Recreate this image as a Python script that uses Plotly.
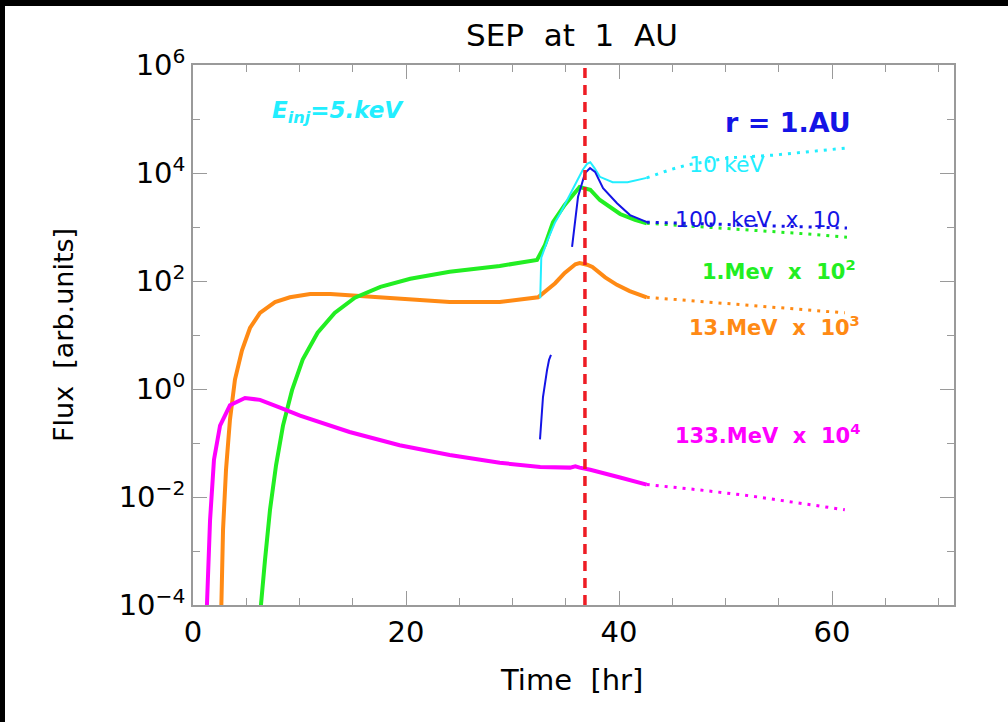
import plotly.graph_objects as go

# ---------------- data ----------------
# 133 MeV x 1e4 (magenta)
t_133 = [1.2, 1.31, 1.6, 1.97, 2.54, 3.47, 4.88, 6.29, 8.17, 10.05, 14.7, 19.4, 24.1, 28.8,
         32.6, 35.4, 35.9, 36.3, 37.3, 38.2, 40.1, 42.6]
f_133 = [1e-5, 1e-4, 3.7e-3, 0.049, 0.21, 0.50, 0.68, 0.63, 0.45, 0.32, 0.16, 0.091, 0.060, 0.043,
         0.036, 0.035, 0.037, 0.035, 0.032, 0.029, 0.023, 0.017]
t_133_ext = [42.6, 47.6, 52.3, 57.0, 61.2]
f_133_ext = [0.017, 0.0135, 0.0105, 0.0078, 0.0058]

# 13 MeV x 1e3 (orange)
t_13 = [2.55, 2.63, 2.82, 3.1, 3.47, 3.94, 4.6, 5.35, 6.29, 7.7, 9.1, 11.0, 12.9, 15.7, 19.4, 24.1,
        28.8, 30.7, 32.4, 34.0, 34.9, 35.9, 36.3, 37.0, 37.5, 38.7, 39.8, 41.0, 42.6]
f_13 = [1e-5, 1e-4, 2.5e-3, 0.032, 0.27, 1.5, 5.2, 13.5, 25.7, 40.7, 50, 57.5, 57.5, 52.5, 46.8, 40.7,
        40.7, 44.7, 50, 91, 141, 204, 214, 200, 182, 117, 85, 65, 50]
t_13_ext = [42.6, 47.6, 52.3, 57.0, 61.2]
f_13_ext = [50, 41.7, 34.7, 29.5, 25.7]

# 1 MeV x 1e2 (green)
t_1 = [6.3, 6.38, 6.76, 7.23, 7.8, 8.45, 9.3, 10.3, 11.7, 13.3, 15.2, 17.6, 20.4, 24.1, 28.8, 32.3,
       33.05, 33.8, 34.9, 35.6, 36.3, 37.3, 38.2, 40.1, 41.5, 42.6]
f_1 = [1e-5, 1e-4, 6.8e-4, 5.8e-3, 0.039, 0.21, 0.95, 3.5, 11, 25.7, 49, 78, 110, 148, 190, 245,
       468, 1230, 2570, 3890, 5500, 4900, 3160, 1740, 1350, 1175]
t_1_ext = [42.6, 47.6, 52.3, 57.0, 61.4]
f_1_ext = [1175, 1020, 870, 760, 645]

# 10 keV (cyan)
t_10k = [32.6, 32.7, 33.3, 34.0, 34.5, 35.4, 36.1, 36.6, 37.0, 37.3, 37.7, 38.2, 39.4, 40.8, 42.6]
f_10k = [48, 270, 575, 1230, 1820, 3890, 7400, 11500, 14800, 15800, 12300, 8500, 6760, 6760, 8130]
t_10k_ext = [42.6, 44.8, 46.4, 50.4, 54.5, 61.2]
f_10k_ext = [8130, 11500, 14100, 19100, 21400, 28800]

# 100 keV x 10 (blue) - None marks the gap
t_100k = [32.58, 32.86, 33.24, 33.43, 33.61, None,
          35.59, 36.15, 36.81, 37.28, 37.75, 38.5, 39.81, 41.03, 42.63]
f_100k = [0.117, 0.71, 2.24, 3.47, 4.27, None,
          427, 3630, 10000, 12300, 10500, 5250, 2750, 1660, 1230]
t_100k_ext = [42.6, 52.0, 61.4]
f_100k_ext = [1230, 1100, 955]

shock_time = 36.8

y_tick_vals = [1e-4, 1e-2, 1, 1e2, 1e4, 1e6]
y_tick_text = ["10<sup>−4</sup>", "10<sup>−2</sup>", "10<sup>0</sup>", "10<sup>2</sup>",
               "10<sup>4</sup>", "10<sup>6</sup>"]
y_minor_vals = [1e-3, 1e-1, 1e1, 1e3, 1e5]

# ---------------- styling ----------------
C_MAG = "#ff00ff"
C_ORA = "#ff8a14"
C_GRN = "#22ee22"
C_CYN = "#22eeff"
C_BLU = "#1414e6"
C_RED = "#ee1c24"
FONT = "DejaVu Sans"
DOT = "3px,6px"

fig = go.Figure()

def add(t, f, color, width, dash="solid"):
    fig.add_trace(go.Scatter(x=t, y=f, mode="lines", connectgaps=False,
                             line=dict(color=color, width=width, dash=dash),
                             showlegend=False, hoverinfo="skip"))

add(t_13, f_13, C_ORA, 4)
add(t_13_ext, f_13_ext, C_ORA, 3, DOT)
add(t_1, f_1, C_GRN, 4)
add(t_1_ext, f_1_ext, C_GRN, 3, DOT)
add(t_133, f_133, C_MAG, 4)
add(t_133_ext, f_133_ext, C_MAG, 3, DOT)
add(t_10k, f_10k, C_CYN, 2)
add(t_10k_ext, f_10k_ext, C_CYN, 3, DOT)
add(t_100k, f_100k, C_BLU, 2)
add(t_100k_ext, f_100k_ext, C_BLU, 3, DOT)

# shock arrival
fig.add_shape(type="line", xref="x", yref="paper", x0=shock_time, x1=shock_time, y0=0, y1=1,
              line=dict(color=C_RED, width=3.5, dash="10px,7px"), layer="above")

# page offset: 5 px black on the left, 6 px black on top (as in the reference);
# the figure is made a little larger than the window so no black shows right/bottom
OFF_L, OFF_T, EXTRA = 5, 6, 30
W, H = 1008 - OFF_L + EXTRA, 722 - OFF_T + EXTRA
L, R, T, B = 193 - OFF_L, 54 + EXTRA, 65 - OFF_T, 117 + EXTRA
PW, PH = W - L - R, H - T - B

axis_common = dict(showgrid=False, zeroline=False, showline=True, linecolor="#9a9a9a",
                   linewidth=1.5, mirror="allticks", ticks="inside", tickcolor="#9a9a9a",
                   tickwidth=1.2, ticklen=14, tickfont=dict(family=FONT, size=29, color="black"))

fig.update_xaxes(range=[0, 71.45], dtick=20, tick0=0,
                 minor=dict(dtick=5, ticks="inside", ticklen=7, tickcolor="#9a9a9a"),
                 **axis_common)
fig.update_yaxes(type="log", range=[-4, 6], tickmode="array", tickvals=y_tick_vals,
                 ticktext=y_tick_text,
                 minor=dict(tickmode="array", tickvals=y_minor_vals, ticks="inside", ticklen=7,
                            tickcolor="#9a9a9a"),
                 **axis_common)

def ann(text, x, y, color, size, xanchor="left", xref="x", yref="y", angle=0):
    fig.add_annotation(text=text, x=x, y=y, xref=xref, yref=yref, showarrow=False,
                       xanchor=xanchor, yanchor="middle", textangle=angle,
                       font=dict(family=FONT, size=size, color=color))

# titles
ann("SEP\u00a0\u00a0at\u00a0\u00a01\u00a0\u00a0AU", 0.498, 1 + 30 / PH, "black", 31,
    xanchor="center", xref="paper", yref="paper")
ann("Time\u00a0\u00a0[hr]", 0.498, -75 / PH, "black", 29, xanchor="center",
    xref="paper", yref="paper")
ann("Flux\u00a0\u00a0[arb.units]", -130 / PW, 0.5, "black", 27, xanchor="center",
    xref="paper", yref="paper", angle=-90)

# in-plot labels (y in log10 units)
ann("<b><i>E<sub>inj</sub>=5.keV</i></b>", 7.2, 5.13, C_CYN, 23)
ann("<b>r\u00a0=\u00a01.AU</b>", 49.8, 4.93, C_BLU, 27)
ann("10\u00a0keV", 46.4, 4.15, C_CYN, 22)
ann("100\u00a0\u00a0keV\u00a0\u00a0x\u00a0\u00a010", 45.1, 3.13, C_BLU, 22)
ann("<b>1.Mev\u00a0\u00a0x\u00a0\u00a010<sup>2</sup></b>", 47.6, 2.2, C_GRN, 21)
ann("<b>13.MeV\u00a0\u00a0x\u00a0\u00a010<sup>3</sup></b>", 46.4, 1.17, C_ORA, 21)
ann("<b>133.MeV\u00a0\u00a0x\u00a0\u00a010<sup>4</sup></b>", 45.1, -0.83, C_MAG, 21)

fig.update_layout(width=W, height=H, margin=dict(l=L, r=R, t=T, b=B),
                  paper_bgcolor="white", plot_bgcolor="white", showlegend=False)

page_style = ("document.documentElement.style.background='black';"
              "document.documentElement.style.overflow='hidden';"
              "document.body.style.margin='%dpx 0 0 %dpx';"
              "document.body.style.overflow='hidden';" % (OFF_T, OFF_L))

fig.write_html("out.html", post_script=page_style)
